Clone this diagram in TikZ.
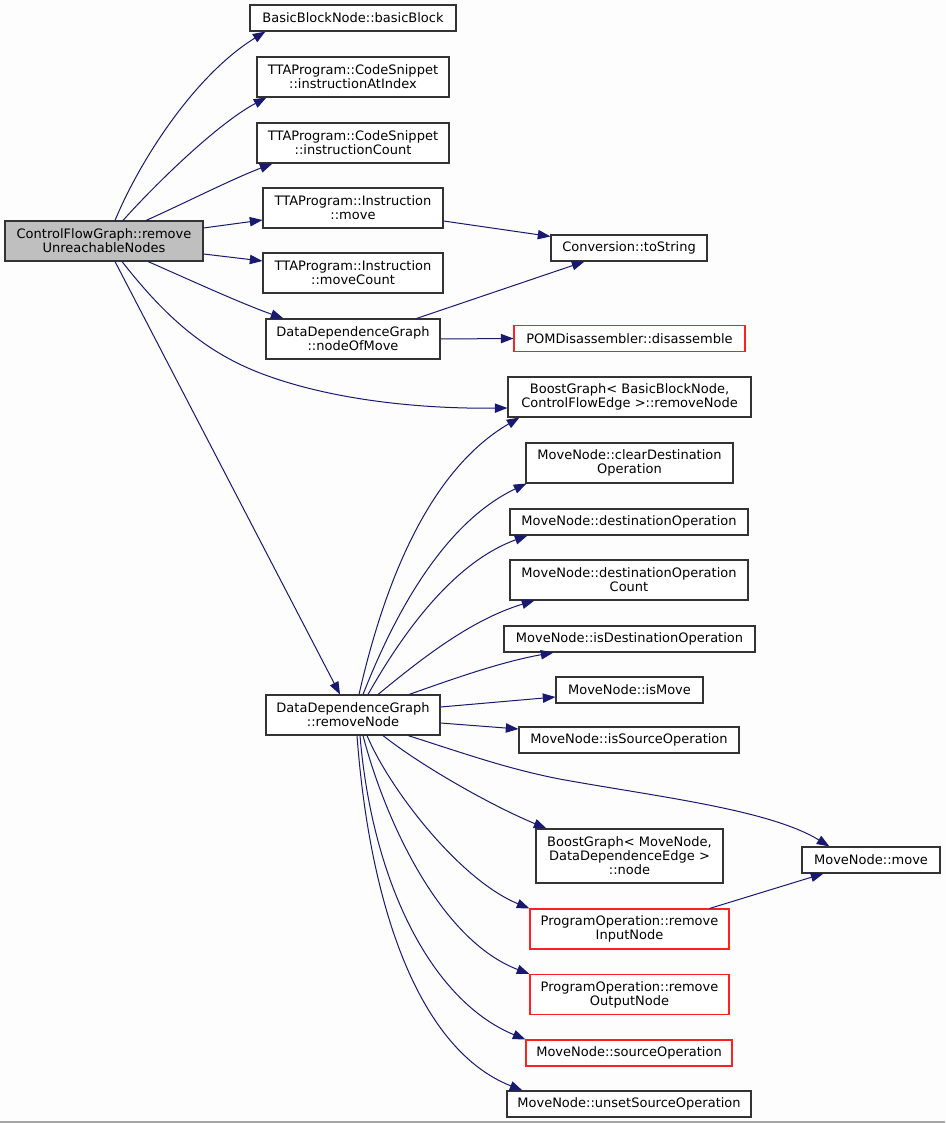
\documentclass[tikz,border=0pt]{standalone}
\usepackage{fontspec}
\setmainfont{DejaVu Sans}
\usetikzlibrary{arrows.meta,calc}
\definecolor{edgeblue}{HTML}{191970}
\definecolor{bgcol}{HTML}{FCFDFC}
\definecolor{boxline}{HTML}{333333}
\definecolor{redline}{HTML}{FF2020}
\definecolor{mainfill}{HTML}{BFBFBF}
\tikzset{
  box/.style={draw=boxline, line width=0.8pt, fill=white, inner sep=0pt, align=center,
    font=\fontsize{9.75pt}{10.5pt}\selectfont},
  redbox/.style={box, draw=redline},
  mainbox/.style={box, fill=mainfill},
  conn/.style={draw=edgeblue, line width=0.75pt, -{Triangle[length=9.5pt,width=7pt]}}
}
\begin{document}
\begin{tikzpicture}[x=0.75pt,y=-0.75pt]
\fill[bgcol] (0,0) rectangle (945,1123);
\useasboundingbox (0,0) rectangle (945,1123);
\draw[line width=1pt, color=black!35] (0,1122) -- (945,1122);

% nodes
\node[mainbox, minimum width=148.5pt, minimum height=30pt] (cfg) at (104,241) {ControlFlowGraph::remove\\UnreachableNodes};
\node[box, minimum width=154.5pt, minimum height=19.5pt] (bbn) at (353,18) {BasicBlockNode::basicBlock};
\node[box, minimum width=144pt, minimum height=30pt] (cia) at (353,77) {TTAProgram::CodeSnippet\\::instructionAtIndex};
\node[box, minimum width=144pt, minimum height=30pt] (cic) at (353,143) {TTAProgram::CodeSnippet\\::instructionCount};
\node[box, minimum width=135pt, minimum height=30pt] (imv) at (353,208) {TTAProgram::Instruction\\::move};
\node[box, minimum width=135pt, minimum height=30pt] (imc) at (353,273) {TTAProgram::Instruction\\::moveCount};
\node[box, minimum width=130.5pt, minimum height=30pt] (nom) at (353,339) {DataDependenceGraph\\::nodeOfMove};
\node[box, minimum width=117pt, minimum height=19.5pt] (tos) at (629,248) {Conversion::toString};
\node[redbox, minimum width=173.25pt, minimum height=19.5pt] (pom) at (629.5,338.5) {POMDisassembler::disassemble};
\node[box, minimum width=182.25pt, minimum height=30pt] (bgr) at (629.5,397) {BoostGraph< BasicBlockNode,\\ ControlFlowEdge >::removeNode};
\node[box, minimum width=155.25pt, minimum height=30pt] (cdo) at (629.5,463) {MoveNode::clearDestination\\Operation};
\node[box, minimum width=178.5pt, minimum height=19.5pt] (dop) at (629,522) {MoveNode::destinationOperation};
\node[box, minimum width=178.5pt, minimum height=30pt] (doc) at (629,580) {MoveNode::destinationOperation\\Count};
\node[box, minimum width=188.25pt, minimum height=19.5pt] (ido) at (629.5,639) {MoveNode::isDestinationOperation};
\node[box, minimum width=110.25pt, minimum height=19.5pt] (ism) at (629.5,690) {MoveNode::isMove};
\node[box, minimum width=165pt, minimum height=19.5pt] (iso) at (629,740) {MoveNode::isSourceOperation};
\node[box, minimum width=130.5pt, minimum height=30pt] (rmn) at (353,715) {DataDependenceGraph\\::removeNode};
\node[box, minimum width=140.25pt, minimum height=40.5pt] (bgn) at (629.5,856) {BoostGraph< MoveNode,\\ DataDependenceEdge >\\::node};
\node[box, minimum width=103.5pt, minimum height=19.5pt] (mvm) at (871,860) {MoveNode::move};
\node[redbox, minimum width=149.25pt, minimum height=30pt] (rin) at (629.5,929) {ProgramOperation::remove\\InputNode};
\node[redbox, minimum width=149.25pt, minimum height=30pt] (rout) at (629.5,994.5) {ProgramOperation::remove\\OutputNode};
\node[redbox, minimum width=154.5pt, minimum height=19.5pt] (sop) at (629,1053) {MoveNode::sourceOperation};
\node[box, minimum width=183pt, minimum height=19.5pt] (uso) at (629,1104) {MoveNode::unsetSourceOperation};

% edges from cfg
\draw[conn] ($(cfg.north)+(11,0)$) .. controls (140,160) and (195,75) .. ($(bbn.south west)+(16,0)$);
\draw[conn] ($(cfg.north)+(19,0)$) .. controls (150,190) and (215,125) .. ($(cia.south west)+(10,0)$);
\draw[conn] ($(cfg.north)+(42,0)$) .. controls (185,203) and (230,180) .. ($(cic.south west)+(16,0)$);
\draw[conn] ($(cfg.east)+(0,-13)$) -- ($(imv.west)+(0,12)$);
\draw[conn] ($(cfg.east)+(0,13)$) -- ($(imc.west)+(0,-12)$);
\draw[conn] ($(cfg.south)+(44,0)$) .. controls (190,280) and (240,303) .. ($(nom.north west)+(18,0)$);
\draw[conn] ($(cfg.south)+(18,0)$) .. controls (160,310) and (200,350) .. (260,373) .. controls (330,400) and (420,409) .. ($(bgr.west)+(0,11)$);
\draw[conn] ($(cfg.south)+(11,0)$) -- ($(rmn.north)+(-13,0)$);

% second column
\draw[conn] ($(imv.east)+(0,13)$) -- ($(tos.north west)+(0,2)$);
\draw[conn] ($(nom.north east)+(-24,0)$) -- ($(tos.south west)+(34,0)$);
\draw[conn] (nom.east) -- (pom.west);

% edges from rmn
\draw[conn] ($(rmn.north)+(6,0)$) .. controls (385,580) and (430,470) .. ($(bgr.south west)+(12,0)$);
\draw[conn] ($(rmn.north)+(10,0)$) .. controls (400,600) and (450,520) .. ($(cdo.south west)+(1,0)$);
\draw[conn] ($(rmn.north)+(15,0)$) .. controls (410,620) and (460,560) .. ($(dop.south west)+(18,0)$);
\draw[conn] ($(rmn.north)+(25,0)$) .. controls (420,660) and (470,620) .. ($(doc.south west)+(25,0)$);
\draw[conn] ($(rmn.north)+(56,0)$) .. controls (450,680) and (500,662) .. ($(ido.south west)+(50,0)$);
\draw[conn] ($(rmn.east)+(0,-8)$) -- ($(ism.west)+(0,7)$);
\draw[conn] ($(rmn.east)+(0,8)$) -- ($(iso.west)+(0,-11)$);
\draw[conn] ($(rmn.south)+(55,0)$) .. controls (460,752) and (510,770) .. (565,780) .. controls (660,797) and (770,810) .. ($(mvm.north west)+(28,0)$);
\draw[conn] ($(rmn.south)+(30,0)$) .. controls (420,765) and (490,805) .. ($(bgn.north west)+(11,0)$);
\draw[conn] ($(rmn.south)+(14,0)$) .. controls (390,790) and (460,880) .. (rin.north west);
\draw[conn] ($(rmn.south)+(10,0)$) .. controls (385,820) and (440,940) .. (rout.north west);
\draw[conn] ($(rmn.south)+(7,0)$) .. controls (372,880) and (430,1000) .. (sop.north west);
\draw[conn] ($(rmn.south)+(4,0)$) .. controls (370,910) and (420,1050) .. ($(uso.north west)+(16,0)$);
\draw[conn] ($(rin.north east)+(-20,0)$) -- ($(mvm.south west)+(22,0)$);
\end{tikzpicture}
\end{document}
